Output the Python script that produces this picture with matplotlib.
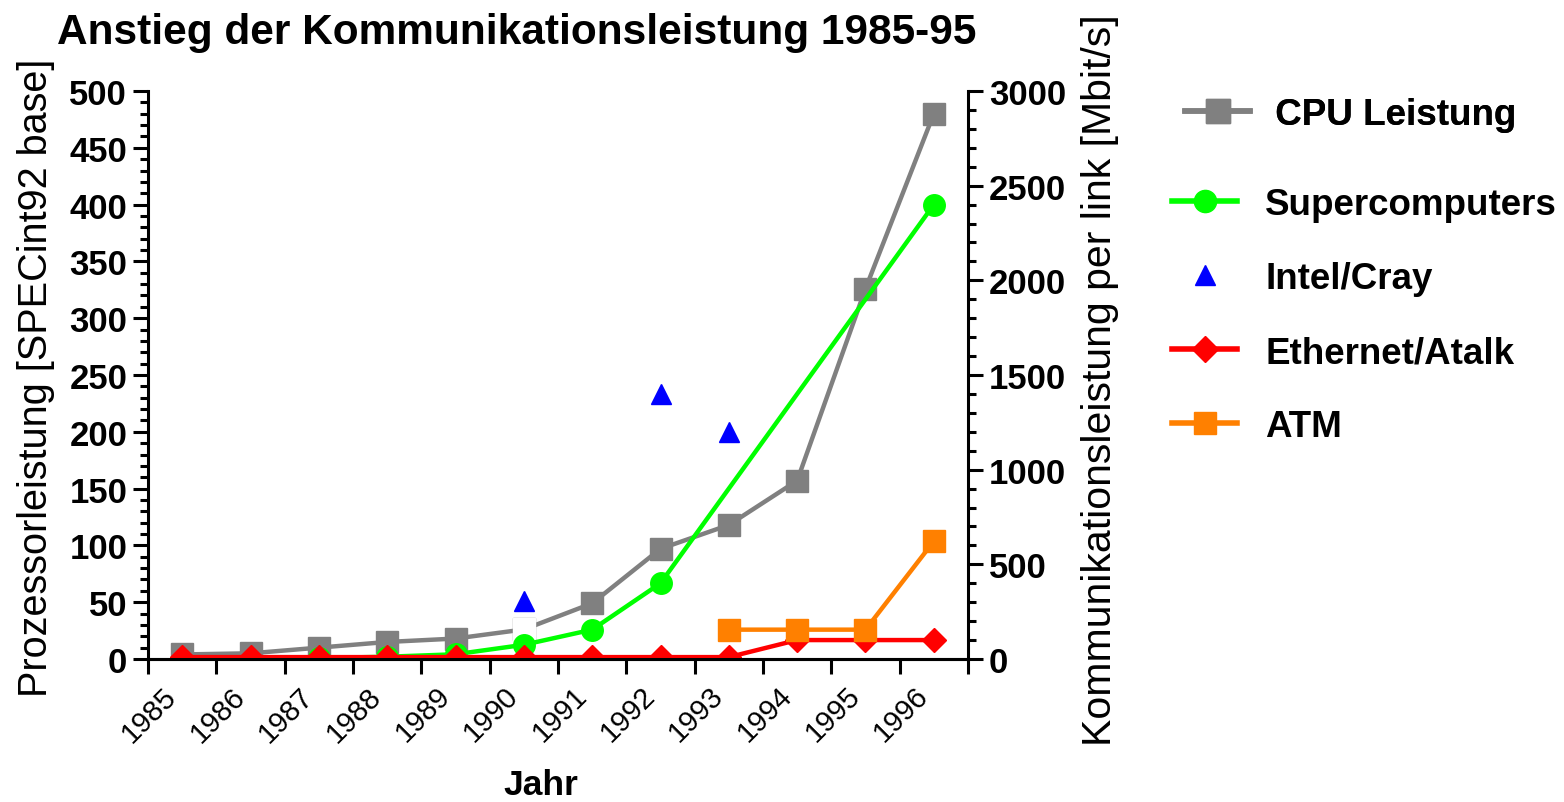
import matplotlib

matplotlib.use("Agg")
import matplotlib.pyplot as plt
import numpy as np
from matplotlib.lines import Line2D
from matplotlib.ticker import MultipleLocator

plt.rcParams["font.family"] = ["Liberation Sans", "DejaVu Sans"]

years = ["1985", "1986", "1987", "1988", "1989", "1990",
         "1991", "1992", "1993", "1994", "1995", "1996"]

# left axis: SPECint92 base
cpu = [4, 5, 10, 15, 18, 26, 49, 97, 118, 157, 326, 480]

# right axis: Mbit/s per link
super_years = ["1987", "1988", "1989", "1990", "1991", "1992", "1996"]
super_vals = [5, 12, 25, 75, 155, 400, 2400]

intel_years = ["1990", "1992", "1993"]
intel_vals = [305, 1400, 1200]

ether = [10, 10, 10, 10, 10, 10, 10, 10, 10, 100, 100, 100]

atm_years = ["1993", "1994", "1995", "1996"]
atm_vals = [155, 155, 155, 622]

GRAY = "#808080"
GREEN = "#00ff00"
BLUE = "#0000ff"
RED = "#ff0000"
ORANGE = "#ff8000"
W, H = 1564, 803


def idx(ys):
    return [years.index(y) for y in ys]


fig = plt.figure(figsize=(W / 100, H / 100), dpi=100)
ax = fig.add_axes([148 / W, 1 - 660 / H, 820 / W, 568 / H])
ax2 = ax.twinx()

x = np.arange(len(years))
ax.plot(x, cpu, color=GRAY, lw=3.2, marker="s", ms=16, zorder=2)
# the 1990 point has a blank marker in the original
ax.plot(x[5], cpu[5], "s", color="white", ms=16, zorder=3)

ax2.plot(idx(super_years), super_vals, color=GREEN, lw=3.2, marker="o", ms=15.5)
ax2.plot(idx(intel_years), intel_vals, ls="none", color=BLUE, marker="^", ms=15)
ax2.plot(x, ether, color=RED, lw=3.2, marker="D", ms=12.5)
ax2.plot(idx(atm_years), atm_vals, color=ORANGE, lw=3.2, marker="s", ms=16)

ax.set_xlim(-0.5, 11.5)
ax.set_ylim(0, 500)
ax2.set_ylim(0, 3000)

ax.set_xticks(np.arange(-0.5, 12, 1))
ax.set_xticklabels([])
ax.set_xticks(x, minor=True)
ax.set_xticklabels(years, minor=True, rotation=45, ha="right", va="top",
                   fontsize=21)
ax.tick_params(axis="x", which="major", direction="out", length=11, width=2.2)
ax.tick_params(axis="x", which="minor", length=0, pad=16)

ax.yaxis.set_major_locator(MultipleLocator(50))
ax.yaxis.set_minor_locator(MultipleLocator(10))
ax.tick_params(axis="y", which="major", direction="out", length=11, width=2.2,
               labelsize=25, pad=4)
ax.tick_params(axis="y", which="minor", direction="out", length=6, width=2.2)
for lab in ax.get_yticklabels():
    lab.set_fontweight("bold")

ax2.yaxis.set_major_locator(MultipleLocator(500))
ax2.yaxis.set_minor_locator(MultipleLocator(100))
ax2.tick_params(axis="y", which="major", direction="out", length=11, width=2.2,
                labelsize=25, pad=4)
ax2.tick_params(axis="y", which="minor", direction="out", length=6, width=2.2)
for lab in ax2.get_yticklabels():
    lab.set_fontweight("bold")

for a in (ax, ax2):
    a.spines["top"].set_visible(False)
    for s in ("left", "right", "bottom"):
        a.spines[s].set_linewidth(2.2)
ax.spines["right"].set_visible(False)
ax2.spines["left"].set_visible(False)

fig.text(57 / W, 1 - 44 / H, "Anstieg der Kommunikationsleistung 1985-95",
         fontsize=30.5, fontweight="bold", ha="left", va="baseline")
fig.text(36 / W, 1 - 378 / H, "Prozessorleistung [SPECint92 base]",
         fontsize=28.5, rotation=90, ha="center", va="center")
fig.text(1100 / W, 1 - 380 / H, "Kommunikationsleistung per link [Mbit/s]",
         fontsize=29.5, rotation=90, ha="center", va="center")
fig.text(541 / W, 1 - 786 / H, "Jahr", fontsize=25.5, fontweight="bold",
         ha="center", va="center")

leg_font = {"size": 26.5, "weight": "bold"}
cpu_handle = [Line2D([], [], color=GRAY, lw=4, marker="s", ms=17)]
leg1 = fig.legend(cpu_handle, [" CPU Leistung"], loc="upper left",
                  bbox_to_anchor=(1185 / W, 1 - 98 / H), frameon=False,
                  prop=leg_font, handlelength=1.77, handletextpad=0.4,
                  borderpad=0, borderaxespad=0)

handles = [
    Line2D([], [], color=GREEN, lw=4, marker="o", ms=16),
    Line2D([], [], ls="none", color=BLUE, marker="^", ms=15),
    Line2D([], [], color=RED, lw=4, marker="D", ms=13),
    Line2D([], [], color=ORANGE, lw=4, marker="s", ms=16),
]
labels = ["Supercomputers", "Intel/Cray", "Ethernet/Atalk", "ATM"]
fig.legend(handles, labels, loc="upper left",
           bbox_to_anchor=(1172 / W, 1 - 188 / H), frameon=False,
           prop=leg_font, handlelength=1.77, handletextpad=0.76,
           labelspacing=1.06, borderpad=0, borderaxespad=0)
fig.add_artist(leg1)

fig.savefig("out.png", dpi=100)
